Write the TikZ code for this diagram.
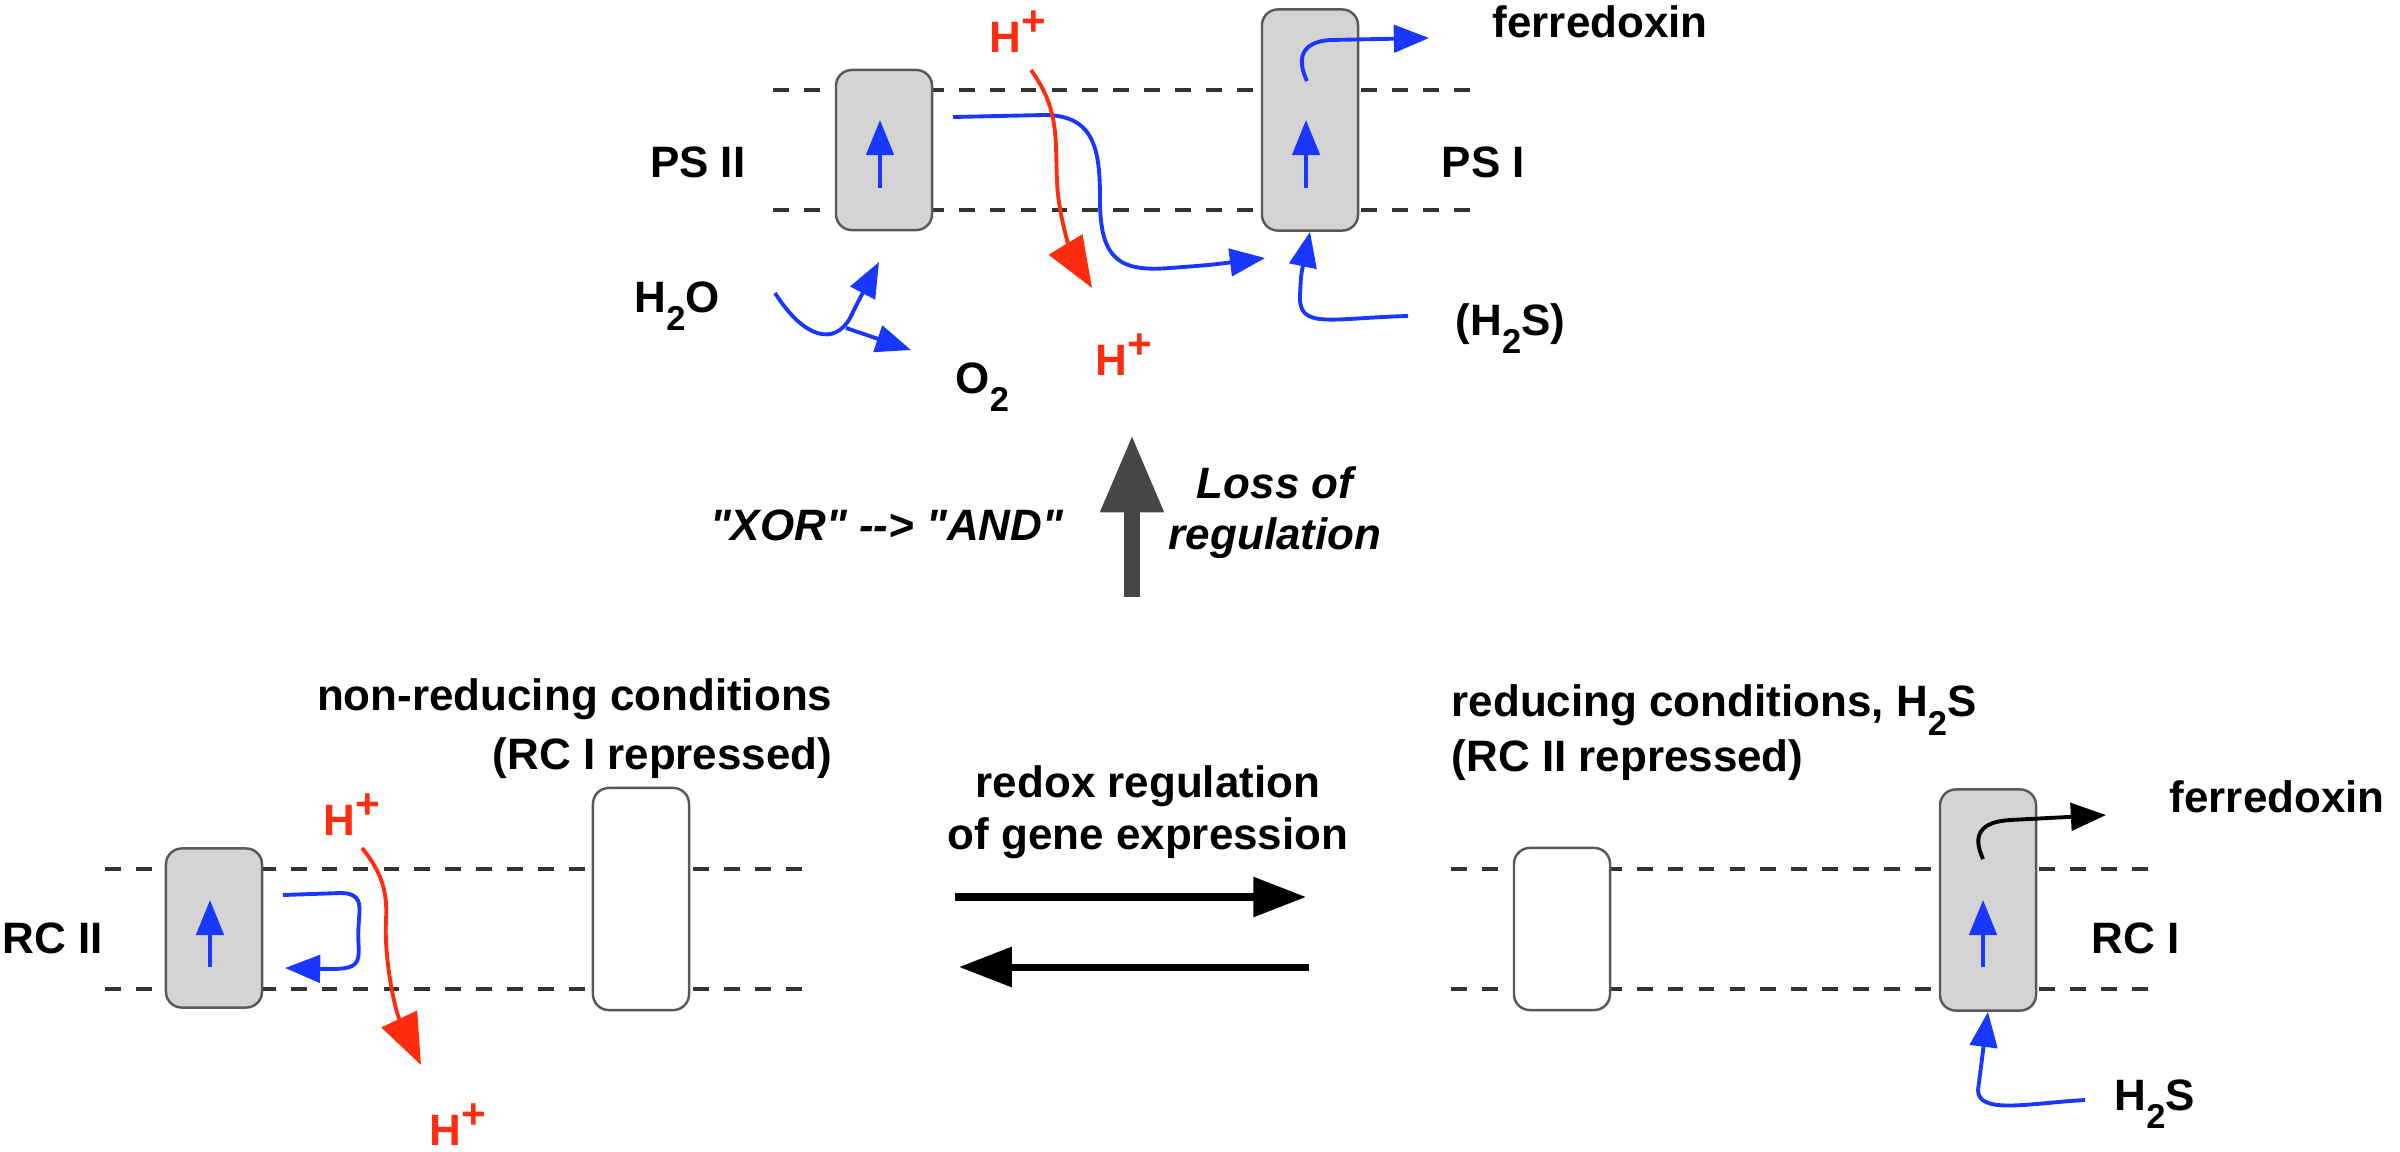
\documentclass[tikz,border=0pt]{standalone}
\usepackage{fontspec}
\setmainfont{Liberation Sans}
\usetikzlibrary{arrows.meta}
\definecolor{eblue}{RGB}{25,55,255}
\definecolor{hred}{RGB}{255,45,15}
\definecolor{boxgray}{RGB}{212,212,212}
\newcommand{\chemsub}[1]{\raisebox{-0.42em}{\fontsize{9.8}{10}\selectfont #1}}
\newcommand{\hplus}{H\raisebox{4.6pt}{\fontsize{12}{12}\selectfont +}}

\begin{document}
\begin{tikzpicture}[x=0.01cm, y=-0.01cm,
    every node/.style={inner sep=0pt, font=\fontsize{12.5}{15.5}\selectfont\bfseries},
    membrane/.style={dash pattern=on 4.5pt off 4.3pt, line width=1.1pt, black!80},
    complex/.style={draw=black!65, line width=0.7pt, rounded corners=4.5pt, fill=boxgray, minimum width=0.96cm},
    offbox/.style={complex, fill=white},
    eflow/.style={eblue, line width=1.1pt, -{Triangle[length=10pt, width=7.8pt]}},
    hflow/.style={hred, line width=1.1pt, -{Triangle[length=14.5pt, width=11pt]}},
    regarrow/.style={line width=2pt, -{Triangle[length=15pt, width=11pt]}},
    lossarrow/.style={black!72, line width=4.3pt, -{Triangle[length=22pt, width=17pt]}}]
    \useasboundingbox (0,0) rectangle (2400,1151);

    % Top: PS II and PS I in one membrane
    \draw[membrane] (773,90) -- (1483,90);
    \draw[membrane] (773,210) -- (1483,210);
    \node[complex, minimum height=1.6cm] (psII) at (884,150) {};
    \node[complex, minimum height=2.21cm] (psI) at (1310,120) {};
    \node[anchor=base east] (psIIlab) at (746,177) {PS II};
    \node[anchor=base west] (psIlab) at (1441,177) {PS I};
    \node[anchor=base west] (fdtop) at (1492,37) {ferredoxin};
    \node[anchor=base west, text=hred] (hin) at (989,52) {\hplus};
    \node[anchor=base west, text=hred] (hout) at (1095,375) {\hplus};
    \node[anchor=base west] (water) at (634,312) {H\chemsub{2}O};
    \node[anchor=base west] (oxy) at (955,393) {O\chemsub{2}};
    \node[anchor=base west] (hstop) at (1455,335) {(H\chemsub{2}S)};

    \draw[eflow] (880,188) -- (880,120);
    \draw[eflow] (1306,188) -- (1306,120);
    \draw[eflow] (953,117) -- (1044,115) .. controls (1095,115) and (1100,150) .. (1100,200)
        .. controls (1100,260) and (1120,272) .. (1170,268) .. controls (1210,265) .. (1265,258);
    \draw[eflow] (1307,81) .. controls (1297,60) and (1300,42) .. (1330,40) -- (1429,38);
    \draw[eflow] (1408,316) .. controls (1330,318) and (1298,330) .. (1300,295) .. controls (1301,275) .. (psI.south);
    \draw[eflow] (775,293) .. controls (805,340) and (835,345) .. (850,318) .. controls (860,298) .. (879,262);
    \draw[eflow] (846,328) -- (911,350);
    \draw[hflow] (1031,70) .. controls (1060,110) and (1055,140) .. (1057,180)
        .. controls (1058,220) and (1075,260) .. (1092,288);

    % Loss of regulation
    \draw[lossarrow] (1132,597) -- (1132,435);
    \node[anchor=base east, font=\fontsize{12.5}{15.5}\selectfont\bfseries\itshape] (xorand) at (1064,540) {\textquotedbl XOR\textquotedbl{} -{}-> \textquotedbl AND\textquotedbl};
    \node[anchor=north, align=center, font=\fontsize{12.5}{14.5}\selectfont\bfseries\itshape] (loss) at (1275,466) {Loss of\\regulation};

    % Bottom left: RC II, RC I repressed
    \draw[membrane] (105,869) -- (811,869);
    \draw[membrane] (105,989) -- (811,989);
    \node[complex, minimum height=1.59cm] (rcII) at (214,928) {};
    \node[offbox, minimum height=2.22cm] (rcIoff) at (641,899) {};
    \node[anchor=base west] (rcIIlab) at (2,953) {RC II};
    \node[anchor=north east, align=right, font=\fontsize{12.5}{16.8}\selectfont\bfseries] (nonred) at (833,678) {non-reducing conditions\\(RC I repressed)};
    \node[anchor=base west, text=hred] (hinL) at (323,835) {\hplus};
    \node[anchor=base west, text=hred] (houtL) at (429,1145) {\hplus};

    \draw[eflow] (210,967) -- (210,900);
    \draw[eflow] (283,895) -- (340,893) .. controls (362,893) and (360,905) .. (359,920)
        .. controls (357,940) and (360,950) .. (358,958) .. controls (356,968) and (345,969) .. (330,969) -- (285,968);
    \draw[hflow] (362,848) .. controls (380,870) and (388,890) .. (386,920)
        .. controls (384,960) and (395,1010) .. (421,1065);

    % Middle: redox switch
    \node[anchor=north, align=center, font=\fontsize{12.5}{14.8}\selectfont\bfseries] (redox) at (1148,765) {redox regulation\\of gene expression};
    \draw[regarrow] (955,897) -- (1306,897);
    \draw[regarrow] (1309,967) -- (959,967);

    % Bottom right: RC I, RC II repressed
    \draw[membrane] (1451,869) -- (2159,869);
    \draw[membrane] (1451,989) -- (2159,989);
    \node[offbox, minimum height=1.62cm] (rcIIoff) at (1562,929) {};
    \node[complex, minimum height=2.21cm] (rcI) at (1988,900) {};
    \node[anchor=north west, align=left, font=\fontsize{12.5}{15.5}\selectfont\bfseries] (red) at (1451,684) {reducing conditions, H\chemsub{2}S\\(RC II repressed)};
    \node[anchor=base west] (rcIlab) at (2091,953) {RC I};
    \node[anchor=base west] (fdbot) at (2169,812) {ferredoxin};
    \node[anchor=base west] (hsbot) at (2114,1110) {H\chemsub{2}S};

    \draw[eflow] (1983,967) -- (1983,900);
    \draw[line width=1.1pt, -{Triangle[length=10pt, width=7.8pt]}] (1983,859) .. controls (1972,835) and (1980,822) .. (2010,820) -- (2106,815);
    \draw[eflow] (2085,1100) .. controls (2030,1103) and (1978,1115) .. (1978,1090) -- (rcI.south);
\end{tikzpicture}
\end{document}
